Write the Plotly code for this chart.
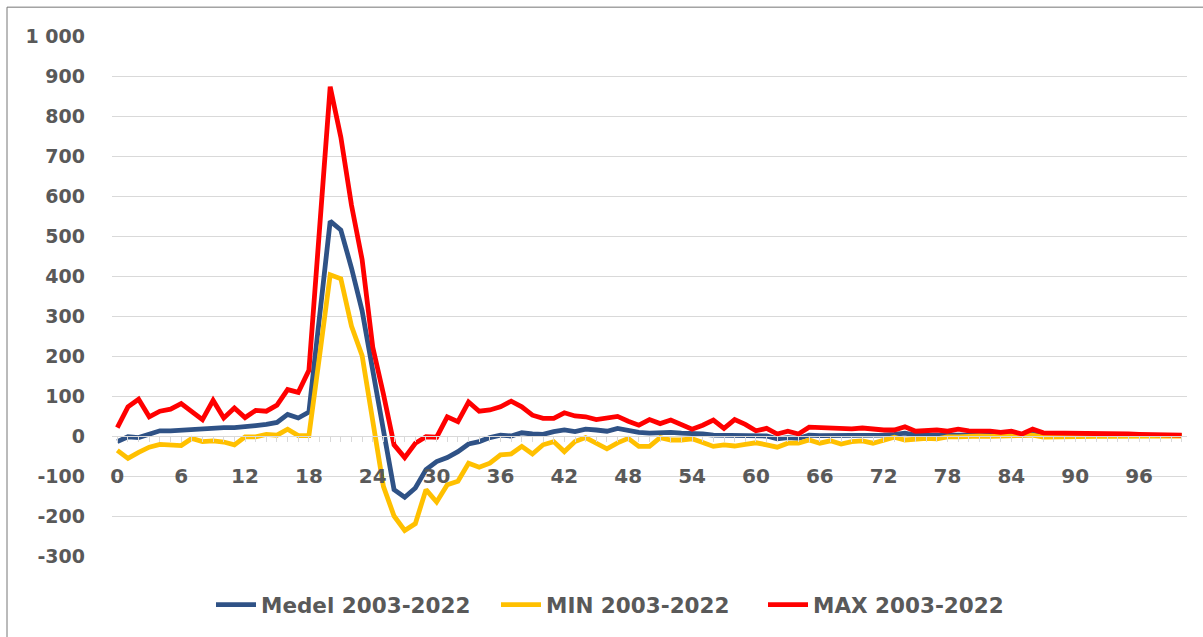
import plotly.graph_objects as go

# ---- data ----
x_values = list(range(0, 101))

medel = [-14, -2, -4, 6, 13, 13, 15, 18, 19, 21,
         21, 21, 22, 26, 29, 34, 54, 45, 60, 298,
         537, 515, 420, 313, 165, 15, -134, -153, -130, -84,
         -64, -54, -39, -20, -14, -4, 2, 0, 8, 5,
         4, 11, 15, 11, 17, 15, 12, 19, 13, 9,
         7, 9, 9, 7, 7, 5, 2, 1, 1, 2,
         0, 0, -7, -4, -6, 2, 1, 1, 1, 2,
         2, 2, 2, 4, 7, 2, 2, 2, 2, 3,
         2, 2, 2, 1, 2, 2, 4, 2, 1, 1,
         1, 1, 1, 1, 1, 1, 1, 1, 1, 1,
         1]

min_vals = [-36, -56, -41, -28, -21, -22, -24, -6, -14, -12,
            -15, -22, -2, -2, 4, 2, 17, 1, 1, 200,
            403, 393, 275, 201, 30, -126, -200, -236, -219, -134,
            -165, -122, -113, -68, -78, -68, -47, -45, -26, -45,
            -22, -14, -39, -14, -4, -17, -32, -17, -6, -26,
            -26, -4, -10, -10, -7, -16, -26, -22, -25, -21,
            -17, -22, -28, -18, -18, -10, -18, -12, -20, -14,
            -12, -18, -10, -3, -10, -7, -6, -7, -2, -2,
            0, 0, -1, -1, 0, 2, 2, -3, -2, -2,
            -1, -1, -1, -1, 0, 0, 0, 0, 0, 0,
            0]

max_vals = [21, 73, 92, 48, 62, 67, 81, 62, 41, 89,
            45, 70, 46, 64, 62, 77, 116, 109, 164, 518,
            873, 747, 577, 441, 222, 105, -22, -54, -18, -2,
            -3, 48, 36, 85, 62, 65, 73, 87, 73, 52,
            44, 44, 58, 50, 48, 41, 44, 49, 37, 27,
            41, 31, 40, 27, 17, 27, 40, 19, 41, 29,
            13, 19, 5, 12, 5, 22, 21, 19, 17, 18,
            20, 17, 15, 15, 23, 12, 13, 15, 12, 17,
            13, 13, 12, 9, 12, 5, 17, 8, 8, 8,
            7, 7, 7, 6, 5, 5, 4, 4, 3, 3,
            2]

series_names = ["Medel 2003-2022", "MIN 2003-2022", "MAX 2003-2022"]
series_colors = ["#2F5286", "#FFC000", "#FF0000"]
legend_widths = [230, 212, 219]

x_tick_vals = [0, 6, 12, 18, 24, 30, 36, 42, 48, 54, 60, 66, 72, 78, 84, 90, 96]
x_tick_text = ["0", "6", "12", "18", "24", "30", "36", "42", "48", "54",
               "60", "66", "72", "78", "84", "90", "96"]
y_tick_vals = [-300, -200, -100, 0, 100, 200, 300, 400, 500, 600, 700, 800, 900, 1000]
y_tick_text = ["-300", "-200", "-100", "0", "100", "200", "300", "400", "500",
               "600", "700", "800", "900", "1 000"]

# ---- layout geometry (pixels) ----
W, H = 1203, 637
L, R, T, B = 112, 16, 36, 78
y_min, y_max = -300, 1000
pw = W - L - R
ph = H - T - B

def px_to_paper_x(px):
    return (px - L) / pw

def px_to_paper_y(py):
    return (H - B - py) / ph

font_family = "DejaVu Sans, Verdana, sans-serif"
text_color = "#595959"
grid_color = "#D9D9D9"

fig = go.Figure()
for name, vals, color, lw in zip(series_names, [medel, min_vals, max_vals],
                                  series_colors, legend_widths):
    fig.add_trace(go.Scatter(
        x=x_values, y=vals, mode="lines", name=name,
        line=dict(color=color, width=4.8),
        legendwidth=lw,
        hoverinfo="x+y",
    ))

zero_pos = (0 - y_min) / (y_max - y_min)

fig.update_layout(
    width=W, height=H,
    margin=dict(l=L, r=R, t=T, b=B, pad=0),
    paper_bgcolor="white",
    plot_bgcolor="white",
    font=dict(family=font_family, color=text_color),
    showlegend=True,
    legend=dict(
        orientation="h",
        x=px_to_paper_x(211), xanchor="left",
        y=px_to_paper_y(608), yanchor="middle",
        font=dict(family=font_family, size=21.5, color=text_color, weight="bold"),
        itemwidth=40,
        bgcolor="rgba(0,0,0,0)",
    ),
    xaxis=dict(
        range=[-0.5, 100.5],
        anchor="free",
        position=zero_pos,
        tickmode="array",
        tickvals=x_tick_vals,
        ticktext=x_tick_text,
        ticks="outside",
        ticklen=5,
        tickcolor=grid_color,
        tickwidth=1,
        minor=dict(dtick=1, tick0=0, ticks="outside", ticklen=5,
                   tickcolor=grid_color, tickwidth=1, showgrid=False),
        showgrid=False,
        zeroline=False,
        showline=True,
        linecolor=grid_color,
        linewidth=1,
        ticklabelstandoff=17,
        tickfont=dict(family=font_family, size=20, color=text_color, weight="bold"),
    ),
    yaxis=dict(
        range=[y_min, y_max],
        tickmode="array",
        tickvals=y_tick_vals,
        ticktext=y_tick_text,
        showgrid=True,
        gridcolor=grid_color,
        gridwidth=1,
        zeroline=False,
        showline=False,
        ticks="",
        ticklabelstandoff=26,
        tickfont=dict(family=font_family, size=19, color=text_color, weight="bold"),
    ),
    shapes=[
        dict(type="rect", xref="paper", yref="paper",
             x0=px_to_paper_x(7), x1=px_to_paper_x(1215),
             y0=px_to_paper_y(660), y1=px_to_paper_y(7),
             line=dict(color="#767676", width=1), fillcolor="rgba(0,0,0,0)",
             layer="below"),
    ],
)

fig.write_html("out.html", config={"displayModeBar": False},
               post_script="document.body.style.margin='0';")
